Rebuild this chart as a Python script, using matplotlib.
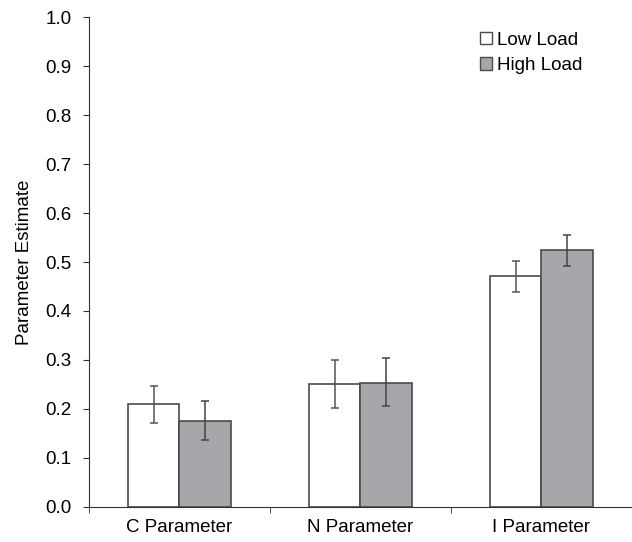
import numpy as np
import matplotlib
matplotlib.use("Agg")
import matplotlib.pyplot as plt
from matplotlib.patches import Patch

plt.rcParams['font.family'] = ['Liberation Sans', 'DejaVu Sans']

# Data
categories = ["C Parameter", "N Parameter", "I Parameter"]
series_names = ["Low Load", "High Load"]
low_vals = [0.210, 0.250, 0.471]
high_vals = [0.176, 0.253, 0.524]
low_err_lo = [0.171, 0.201, 0.438]
low_err_hi = [0.247, 0.299, 0.503]
high_err_lo = [0.137, 0.205, 0.491]
high_err_hi = [0.216, 0.303, 0.556]

fig = plt.figure(figsize=(6.32, 5.42), dpi=100)
ax = fig.add_axes([0.1408, 0.065, 0.859, 0.903])

x = np.arange(len(categories))
w = 0.286
edge = "#4a4a4a"
gray = "#a6a7aa"

low = np.array(low_vals)
high = np.array(high_vals)
low_yerr = [low - np.array(low_err_lo), np.array(low_err_hi) - low]
high_yerr = [high - np.array(high_err_lo), np.array(high_err_hi) - high]

ax.bar(x - w / 2, low, w, color="white", edgecolor=edge, linewidth=1.2,
       yerr=low_yerr, ecolor="#555555", capsize=3,
       error_kw={"elinewidth": 1.1, "capthick": 1.1})
ax.bar(x + w / 2, high, w, color=gray, edgecolor=edge, linewidth=1.2,
       yerr=high_yerr, ecolor="#444444", capsize=3,
       error_kw={"elinewidth": 1.1, "capthick": 1.1})

ax.set_xlim(-0.5, 2.5)
ax.set_ylim(0, 1.0)
ax.set_yticks(np.arange(0, 1.01, 0.1))
ax.set_yticklabels([f"{v:.1f}" for v in np.arange(0, 1.01, 0.1)])
ax.set_xticks(x)
ax.set_xticklabels(categories)
ax.set_xticks([-0.5, 0.5, 1.5, 2.5], minor=True)
ax.tick_params(axis="x", which="major", length=0, pad=9, labelsize=13.5)
ax.tick_params(axis="x", which="minor", length=4, direction="out", color="#333333")
ax.tick_params(axis="y", length=4.5, direction="out", pad=8, labelsize=13.5, color="#333333")
ax.set_ylabel("Parameter Estimate", fontsize=13.5, labelpad=9)

for s in ["top", "right"]:
    ax.spines[s].set_visible(False)
for s in ["left", "bottom"]:
    ax.spines[s].set_color("#333333")

handles = [Patch(facecolor="white", edgecolor=edge, label=series_names[0]),
           Patch(facecolor=gray, edgecolor=edge, label=series_names[1])]
ax.legend(handles=handles, loc="upper right", bbox_to_anchor=(0.94, 1.005),
          frameon=False, fontsize=13.5, handlelength=0.65, handleheight=0.65,
          handletextpad=0.25, labelspacing=0.45)

fig.savefig("out.png", dpi=100)
